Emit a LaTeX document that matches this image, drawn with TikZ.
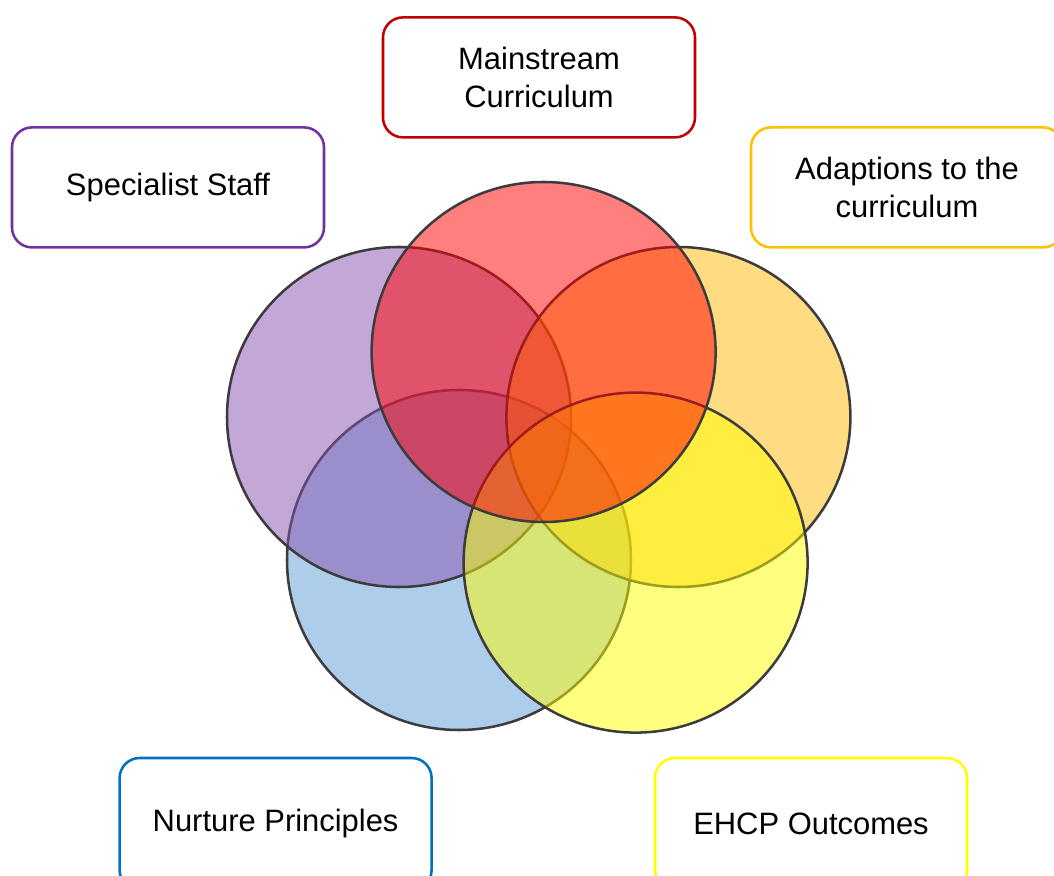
\documentclass[tikz,border=0pt]{standalone}
\usepackage{fontspec}
\setmainfont{Liberation Sans}
\usetikzlibrary{shapes.geometric}
\definecolor{ringline}{HTML}{3C3C3C}
\definecolor{redfill}{HTML}{FF0000}
\definecolor{purplefill}{RGB}{135,82,175}
\definecolor{orangefill}{RGB}{255,185,5}
\definecolor{bluefill}{RGB}{93,155,213}
\definecolor{yellowfill}{HTML}{FFFF00}
\definecolor{boxred}{HTML}{C00000}
\definecolor{boxpurple}{HTML}{7030A0}
\definecolor{boxorange}{HTML}{FFC000}
\definecolor{boxblue}{HTML}{0070C0}
\definecolor{boxyellow}{HTML}{FFFF00}
\begin{document}
\begin{tikzpicture}[
  petal/.style={ellipse,draw=ringline,line width=1.8pt,fill opacity=0.5,
    minimum width=8.6cm,minimum height=8.5cm,inner sep=0pt},
  topic/.style={rounded corners=0.5cm,draw,line width=1.8pt,fill=white,
    minimum width=7.8cm,minimum height=3cm,align=center,
    font=\fontsize{22}{27}\selectfont}]
  \useasboundingbox (0,0) rectangle (26.35,21.875);
  % overlapping circles, back to front
  \node[petal,fill=bluefill]   (nurture)  at (11.475,7.875) {};
  \node[petal,fill=purplefill] (staff)    at (9.975,11.45) {};
  \node[petal,fill=orangefill] (adapt)    at (16.96,11.45) {};
  \node[petal,fill=yellowfill] (ehcp)     at (15.89,7.81) {};
  \node[petal,fill=redfill]    (main)     at (13.59,13.075) {};
  % labels round the outside
  \node[topic,draw=boxred]    (mainbox)    at (13.475,19.94) {Mainstream\\Curriculum};
  \node[topic,draw=boxpurple] (staffbox)   at (4.2,17.19) {Specialist Staff};
  \node[topic,draw=boxorange] (adaptbox)   at (22.675,17.19) {Adaptions to the\\curriculum};
  \node[topic,draw=boxblue,minimum height=3.3cm]   (nurturebox) at (6.89,1.275) {Nurture Principles};
  \node[topic,draw=boxyellow,minimum height=3.3cm] (ehcpbox)    at (20.275,1.275) {EHCP Outcomes};
\end{tikzpicture}
\end{document}
